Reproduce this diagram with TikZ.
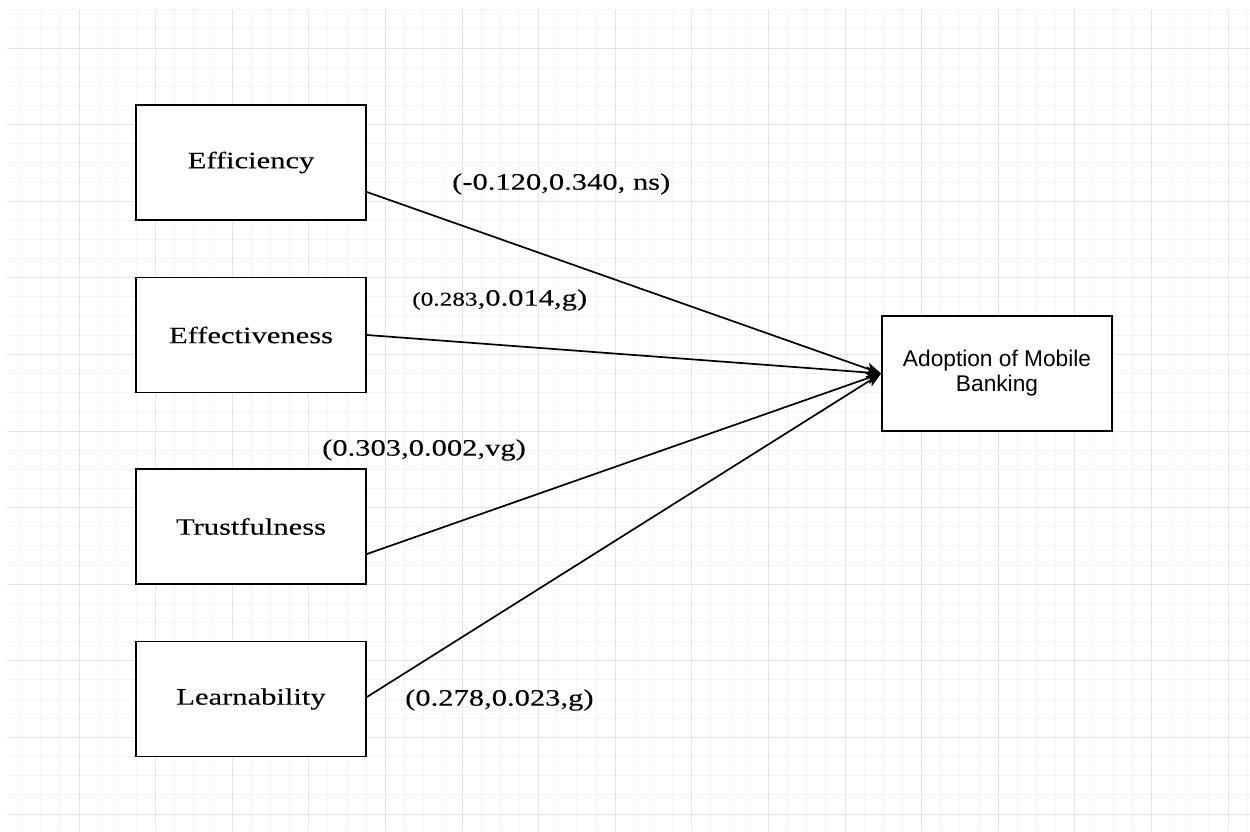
\documentclass[tikz,border=0pt]{standalone}
\usepackage{fontspec}
\setmainfont{Liberation Serif}[FakeStretch=1.3,FakeBold=0.1]
\newfontfamily\arialfont{Liberation Sans}
\usetikzlibrary{arrows.meta}
\definecolor{gridminor}{HTML}{F3F3F3}
\definecolor{gridmajor}{HTML}{E4E4E4}
\tikzset{
  box/.style={draw=black, line width=1.8pt, fill=white, minimum width=230pt, minimum height=115pt, inner sep=0pt, font=\fontsize{23.5}{27}\selectfont},
  target/.style={box, font=\arialfont\fontsize{22.7}{26}\selectfont, align=center},
  lbl/.style={inner sep=0pt, font=\fontsize{23.5}{27}\selectfont},
  link/.style={draw=black, line width=1.7pt, -{Stealth[length=15pt,width=12pt,inset=4pt]}}
}
\begin{document}
\begin{tikzpicture}[x=1pt,y=-1pt]
\useasboundingbox (0,0) rectangle (1250,831);
\fill[white] (0,0) rectangle (1250,831);
\begin{scope}
\clip (7,9) rectangle (1250,831);
\foreach \k in {0,...,66} {
  \draw[gridminor, line width=1pt] ({2.4+19.15*\k},0) -- ({2.4+19.15*\k},831);
}
\foreach \k in {0,...,45} {
  \draw[gridminor, line width=1pt] (0,{-28.6+19.15*\k}) -- (1250,{-28.6+19.15*\k});
}
\foreach \k in {0,...,16} {
  \draw[gridmajor, line width=1pt] ({2.4+76.6*\k},0) -- ({2.4+76.6*\k},831);
}
\foreach \k in {0,...,11} {
  \draw[gridmajor, line width=1pt] (0,{-28.6+76.6*\k}) -- (1250,{-28.6+76.6*\k});
}
\end{scope}

\node[box] (eff) at (251,162.5) {Efficiency};
\node[box] (efv) at (251,335) {Effectiveness};
\node[box] (tru) at (251,526.5) {Trustfulness};
\node[box] (lea) at (251,699) {Learnability};
\node[target] (amb) at (997,373.5) {\raisebox{-3pt}{\begin{tabular}{@{}c@{}}Adoption of Mobile\\[-1pt]Banking\end{tabular}}};

\draw[link] ([yshift=-29.5pt]eff.east) -- (amb.west);
\draw[link] (efv.east) -- (amb.west);
\draw[link] ([yshift=-27.5pt]tru.east) -- (amb.west);
\draw[link] ([yshift=2pt]lea.east) -- (amb.west);

\node[lbl, anchor=west] (l1) at (452,184) {(-0.120,0.340, ns)};
\node[lbl, anchor=west] (l2) at (412,300) {{\fontsize{19.5}{23}\selectfont(0.283},0.014,g)};
\node[lbl, anchor=west] (l3) at (322,450) {(0.303,0.002,vg)};
\node[lbl, anchor=west] (l4) at (405,700) {(0.278,0.023,g)};
\end{tikzpicture}
\end{document}
